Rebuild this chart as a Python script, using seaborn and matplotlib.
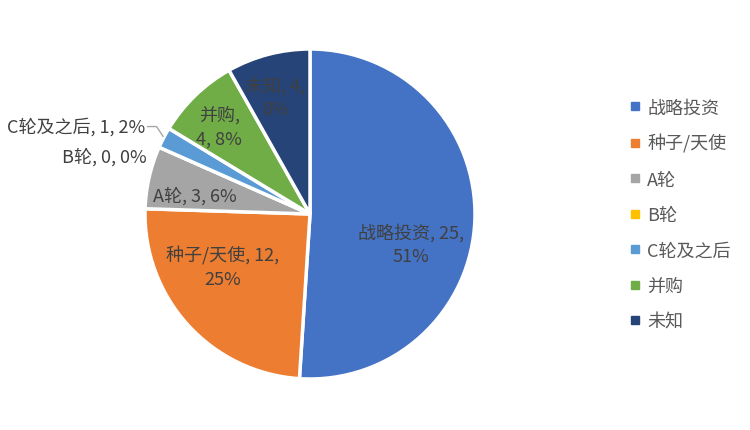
import seaborn as sns
import matplotlib.pyplot as plt
from matplotlib.lines import Line2D

categories = ['战略投资', '种子/天使', 'A轮', 'B轮', 'C轮及之后', '并购', '未知']
values = [25, 12, 3, 0, 1, 4, 4]
pct_labels = ['51%', '25%', '6%', '0%', '2%', '8%', '8%']
colors = ['#4472C4', '#ED7D31', '#A5A5A5', '#FFC000', '#5B9BD5', '#70AD47', '#264478']

sns.set_theme(style='white')
plt.rcParams['font.family'] = ['Noto Sans CJK SC', 'DejaVu Sans']
txt_color = '#404040'

fig = plt.figure(figsize=(7.5, 4.31), dpi=100)
R = 165
ax = fig.add_axes([(310 - R) / 750, (431 - 215 - R) / 431, 2 * R / 750, 2 * R / 431])

wedges, _ = ax.pie(values, colors=colors, startangle=90, counterclock=False,
                   radius=1.0, wedgeprops=dict(edgecolor='white', linewidth=2.5))
ax.set_xlim(-1, 1)
ax.set_ylim(-1, 1)
ax.set_aspect('equal')
ax.axis('off')

# 标签文字 (位置参照 Excel 自动布局)
label_pos = [(0.61, -0.18, 'center'), (-0.53, -0.32, 'center'), (-0.70, 0.115, 'center'),
             (-0.99, 0.35, 'right'), (-1.0, 0.53, 'right'), (-0.55, 0.53, 'center'),
             (-0.21, 0.71, 'center')]
two_line = {0, 1, 5, 6}
for i, (cat, v, p) in enumerate(zip(categories, values, pct_labels)):
    x, y, ha = label_pos[i]
    if i in two_line:
        if i == 5:
            s = f'{cat},\n{v}, {p}'
        else:
            s = f'{cat}, {v},\n{p}'
    else:
        s = f'{cat}, {v}, {p}'
    ax.text(x, y, s, ha=ha, va='center', fontsize=13, color=txt_color,
            linespacing=1.4, clip_on=False)

# C轮 引导线
ax.plot([-0.985, -0.93, -0.89], [0.53, 0.53, 0.47], color='#A6A6A6', lw=1, clip_on=False)

handles = [Line2D([0], [0], marker='s', linestyle='', markersize=6,
                  markerfacecolor=c, markeredgecolor=c) for c in colors]
leg = fig.legend(handles, categories, loc='center left', bbox_to_anchor=(0.81, 0.5),
                 frameon=False, fontsize=13, labelspacing=0.97, handletextpad=0.1,
                 handlelength=1.2)
for t in leg.get_texts():
    t.set_color('#595959')

fig.savefig('out.png', dpi=100)
plt.close()
